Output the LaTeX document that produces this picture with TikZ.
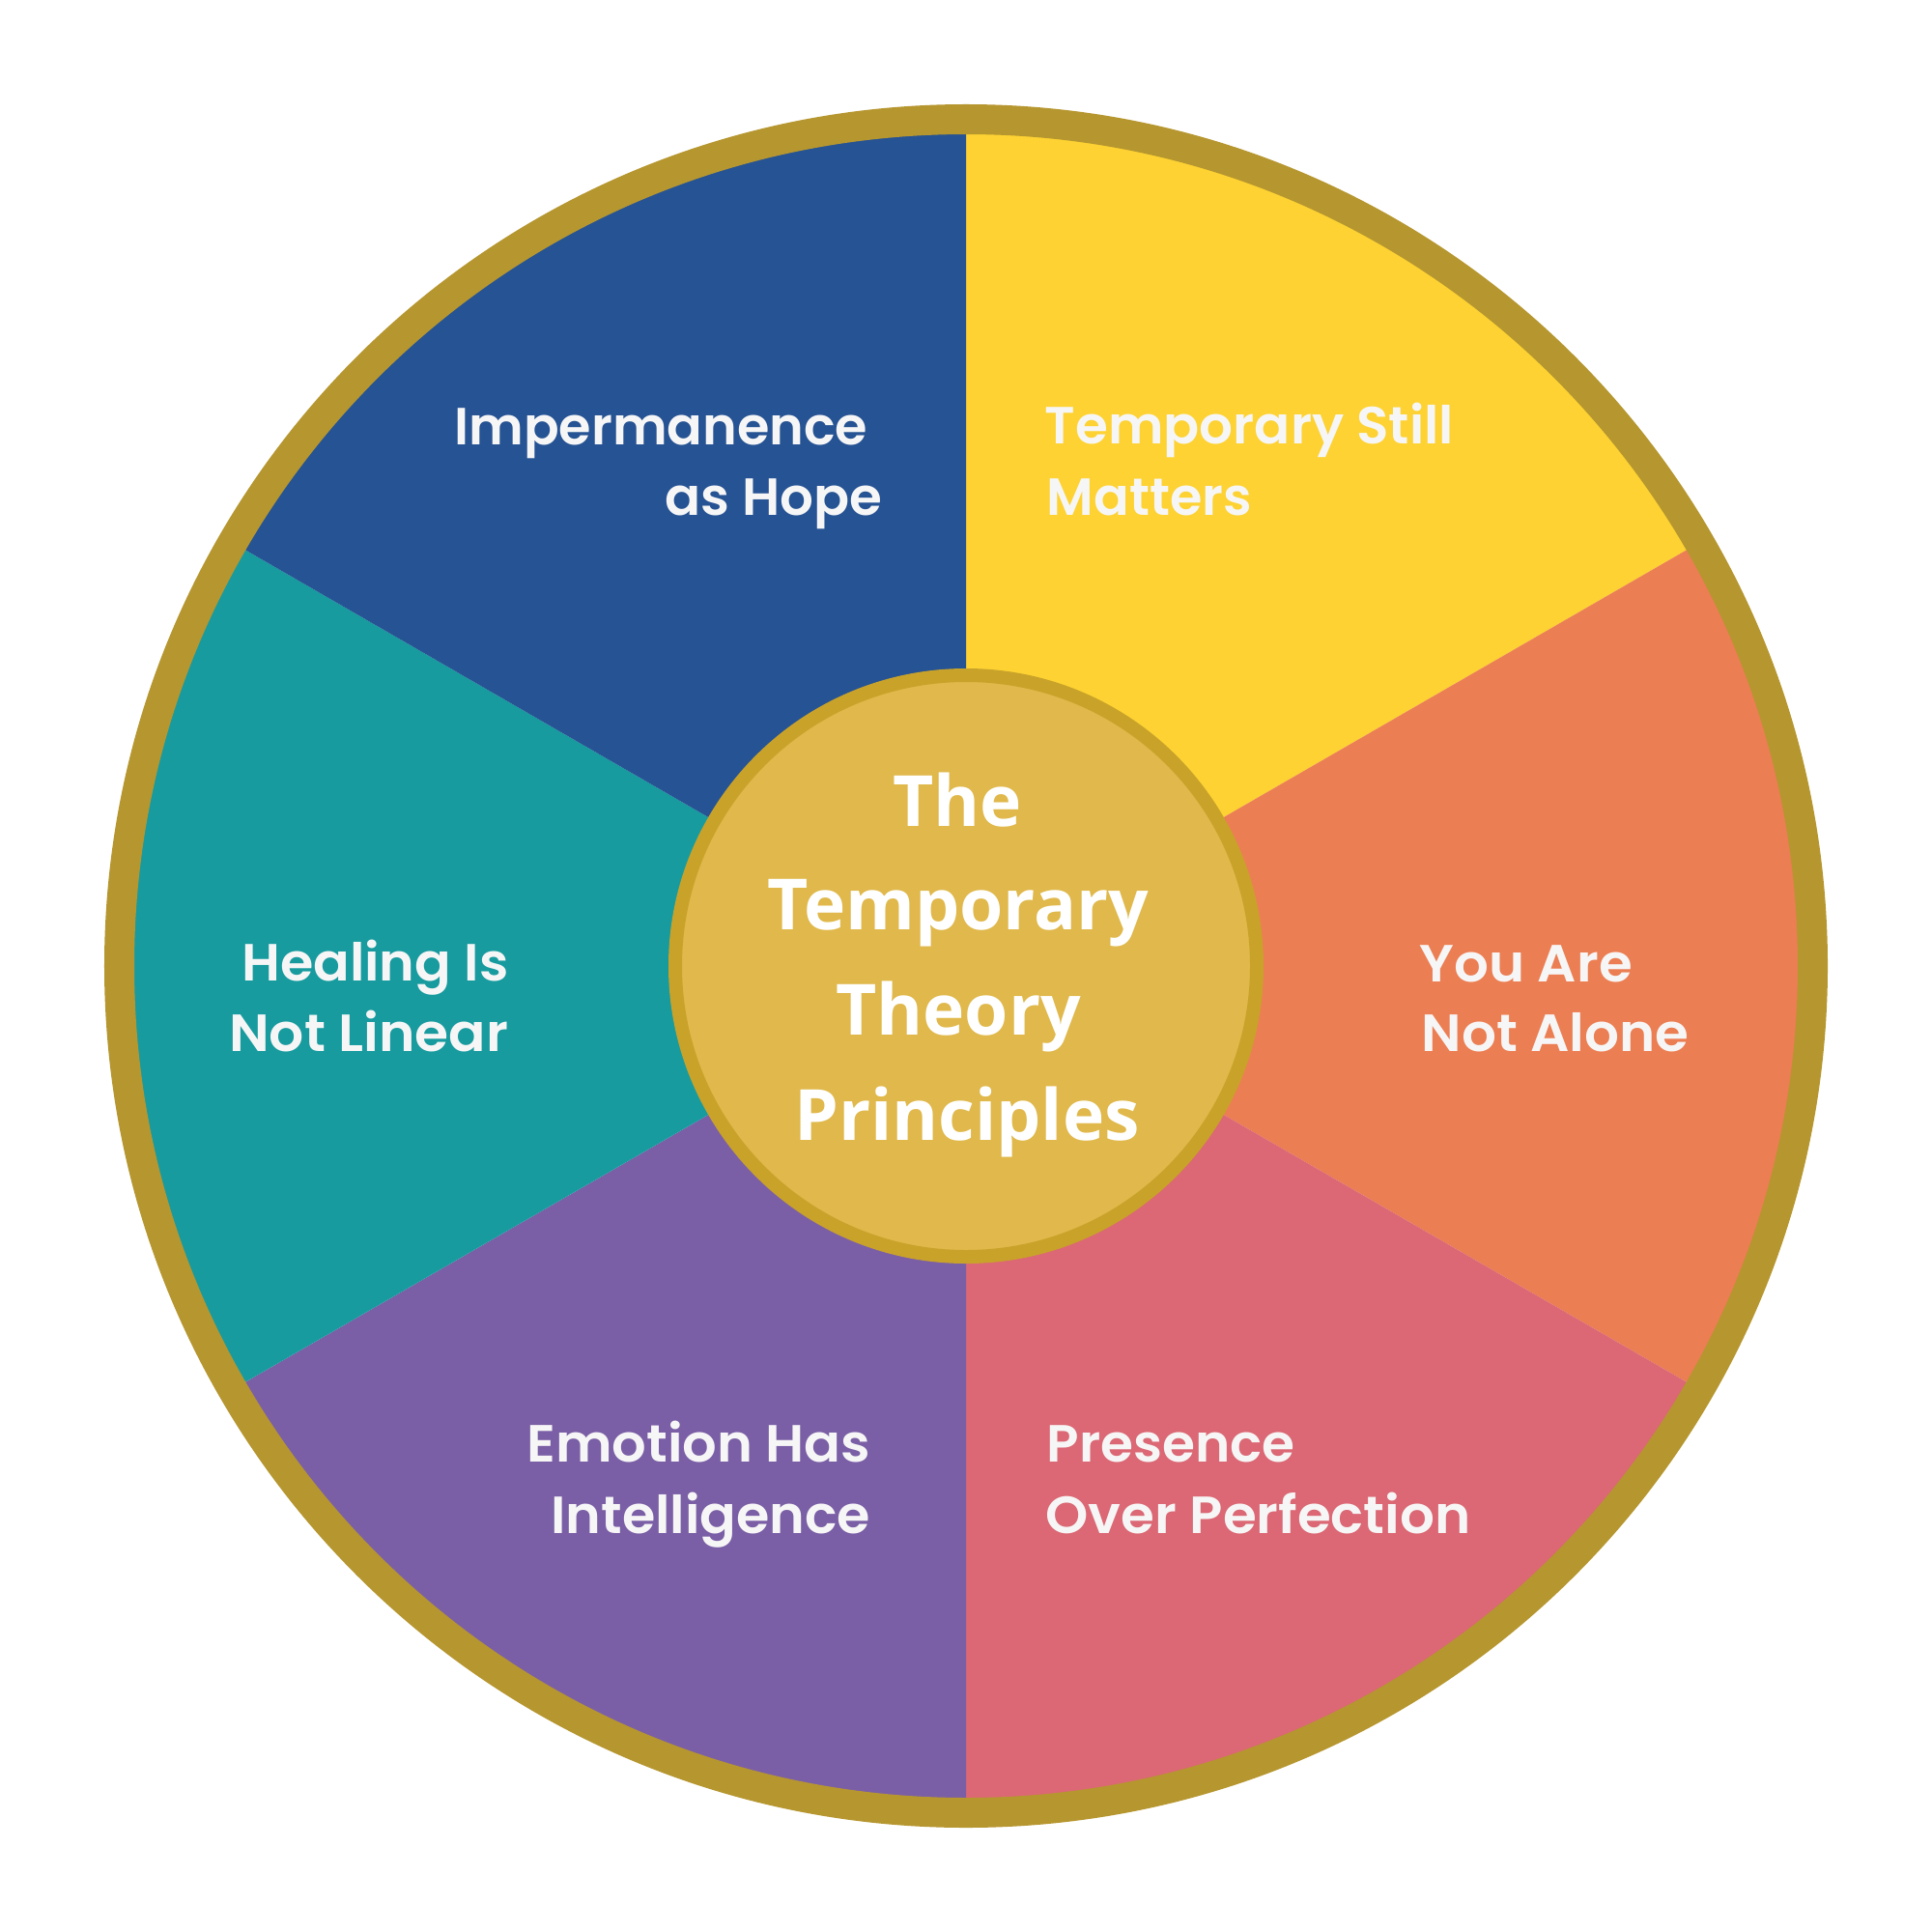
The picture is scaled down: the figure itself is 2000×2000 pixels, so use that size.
\documentclass[tikz,border=0pt]{standalone}
\usepackage{fontspec}
\usepackage{graphicx}
\newfontfamily\titlefont{Open Sans}
\newfontfamily\lblfont{Poppins SemiBold}
\definecolor{cblue}{RGB}{38,83,148}
\definecolor{cyellow}{RGB}{253,210,50}
\definecolor{corange}{RGB}{236,126,83}
\definecolor{cpink}{RGB}{219,104,116}
\definecolor{cpurple}{RGB}{123,95,166}
\definecolor{cteal}{RGB}{24,155,159}
\definecolor{cring}{RGB}{182,150,47}
\definecolor{chub}{RGB}{224,184,75}
\definecolor{chubline}{RGB}{201,162,42}
\definecolor{ctext}{RGB}{246,246,246}
\newcommand{\fitw}[2]{\resizebox{#1\dimexpr 0.01cm\relax}{\height}{#2}}
\tikzset{
  lbl/.style={inner sep=0pt, text=ctext, font=\lblfont\fontsize{15.4}{18}\selectfont},
  ttl/.style={inner sep=0pt, text=white, font=\titlefont\bfseries\fontsize{20.8}{25}\selectfont},
}
\begin{document}
\begin{tikzpicture}[x=0.01cm,y=-0.01cm]
\fill[white] (0,0) rectangle (2000,2000);
\useasboundingbox (0,0) rectangle (2000,2000);
\coordinate (O) at (1000,1000);
% sectors (y axis flipped: angles run clockwise on screen)
\fill[cyellow] (O) -- ++(-90:870) arc[start angle=-90, end angle=-30, radius=870] -- cycle;
\fill[corange] (O) -- ++(-30:870) arc[start angle=-30, end angle=30, radius=870] -- cycle;
\fill[cpink]   (O) -- ++(30:870) arc[start angle=30, end angle=90, radius=870] -- cycle;
\fill[cpurple] (O) -- ++(90:870) arc[start angle=90, end angle=150, radius=870] -- cycle;
\fill[cteal]   (O) -- ++(150:870) arc[start angle=150, end angle=210, radius=870] -- cycle;
\fill[cblue]   (O) -- ++(210:870) arc[start angle=210, end angle=270, radius=870] -- cycle;
% outer ring
\draw[cring, line width=8.82pt] (O) circle[radius=876.5];
% hub
\fill[chub] (O) circle[radius=301];
\draw[chubline, line width=3.98pt] (O) circle[radius=301];
% hub title
\node[ttl, anchor=base] (t1) at (991,855) {The};
\node[ttl, anchor=base] (t2) at (992,962) {Temporary};
\node[ttl, anchor=base] (t3) at (992,1071) {Theory};
\node[ttl, anchor=base] (t4) at (1001,1180) {Principles};
% labels
\node[lbl, anchor=base east] (a1) at (899,460) {\fitw{428}{Impermanence}};
\node[lbl, anchor=base east] (a2) at (914,533) {\fitw{225}{as Hope}};
\node[lbl, anchor=base west] (b1) at (1081,459) {\fitw{423}{Temporary Still}};
\node[lbl, anchor=base west] (b2) at (1083,533) {\fitw{212}{Matters}};
\node[lbl, anchor=base west] (c1) at (1469,1016) {\fitw{220}{You Are}};
\node[lbl, anchor=base west] (c2) at (1471,1088) {\fitw{277}{Not Alone}};
\node[lbl, anchor=base west] (d1) at (1083,1513) {\fitw{257}{Presence}};
\node[lbl, anchor=base west] (d2) at (1082,1587) {\fitw{440}{Over Perfection}};
\node[lbl, anchor=base east] (e1) at (902,1513) {\fitw{356}{Emotion Has}};
\node[lbl, anchor=base east] (e2) at (902,1587) {\fitw{331}{Intelligence}};
\node[lbl, anchor=base east] (f1) at (527,1015) {\fitw{276}{Healing Is}};
\node[lbl, anchor=base east] (f2) at (527,1088) {\fitw{289}{Not Linear}};
\end{tikzpicture}
\end{document}
